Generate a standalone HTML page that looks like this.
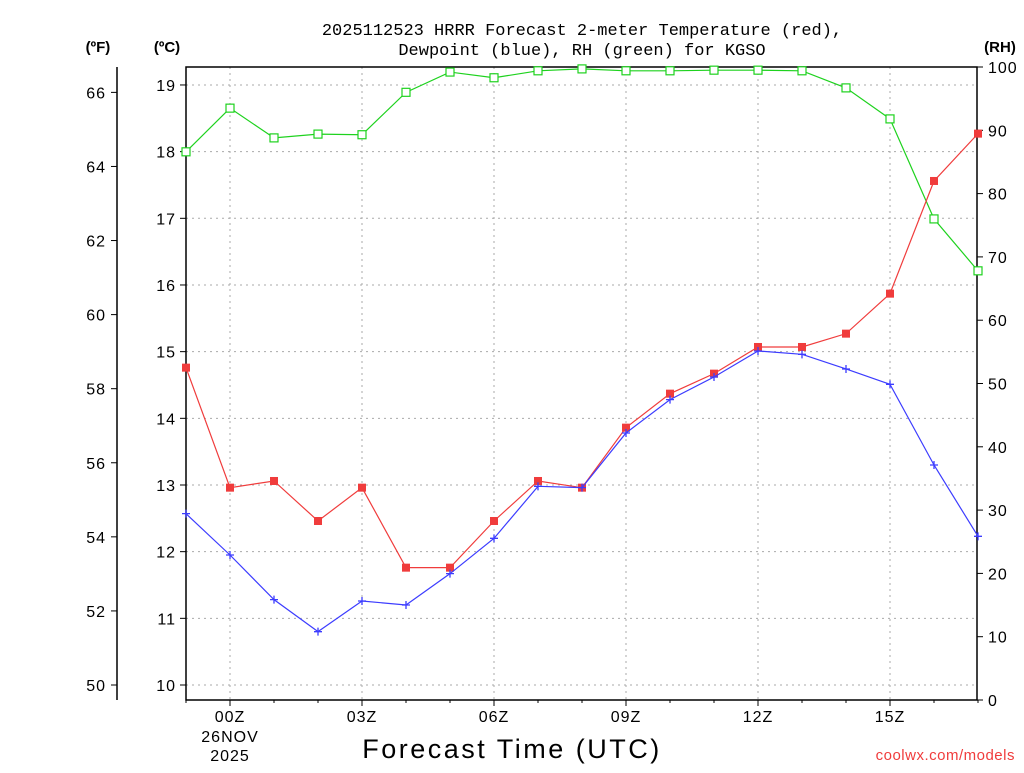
<!DOCTYPE html>
<html><head><meta charset="utf-8"><style>
body{margin:0;background:#fff;}
svg text{font-family:"Liberation Sans",sans-serif;}
</style></head><body>
<svg id="c" width="1024" height="768" xmlns="http://www.w3.org/2000/svg">
<text x="582" y="35" font-size="17" text-anchor="middle" style="font-family:'Liberation Mono',monospace">2025112523 HRRR Forecast 2-meter Temperature (red),</text>
<text x="582" y="55" font-size="17" text-anchor="middle" style="font-family:'Liberation Mono',monospace">Dewpoint (blue), RH (green) for KGSO</text>
<text x="98" y="52" font-size="15" font-weight="bold" text-anchor="middle">(ºF)</text>
<text x="167" y="52" font-size="15" font-weight="bold" text-anchor="middle">(ºC)</text>
<text x="1000" y="52" font-size="15" font-weight="bold" text-anchor="middle">(RH)</text>
<text x="512" y="758" font-size="27" text-anchor="middle" letter-spacing="2.5">Forecast Time (UTC)</text>
<text x="1015" y="760" font-size="15" fill="#f03c3c" text-anchor="end" letter-spacing="0.5">coolwx.com/models</text>
<g id="g"></g>
</svg>
<script>
const hours=[-1,0,1,2,3,4,5,6,7,8,9,10,11,12,13,14,15,16,17];
const tempC=[14.76,12.96,13.06,12.46,12.96,11.76,11.76,12.46,13.06,12.96,13.86,14.37,14.67,15.07,15.07,15.27,15.87,17.56,18.27];
const dewC=[12.57,11.95,11.28,10.8,11.26,11.2,11.67,12.2,12.98,12.96,13.78,14.28,14.62,15.01,14.96,14.74,14.51,13.3,12.23];
const rh=[86.6,93.5,88.8,89.4,89.3,96,99.2,98.3,99.4,99.7,99.4,99.4,99.5,99.5,99.4,96.7,91.8,76,67.8];
const cTicks=[10,11,12,13,14,15,16,17,18,19];
const fTicks=[50,52,54,56,58,60,62,64,66];
const rhTicks=[0,10,20,30,40,50,60,70,80,90,100];
const xTicks=["00Z","03Z","06Z","09Z","12Z","15Z"];
const xTickHours=[0,3,6,9,12,15];
const L=186,R=977,T=67,B=700;
const X=h=>230+h*44;
const YC=c=>685-(c-10)*66.67;
const YF=f=>YC((f-32)*5/9);
const YR=r=>B-r*6.33;
const g=document.getElementById('g');const NS="http://www.w3.org/2000/svg";
function mk(t,a,p){const e=document.createElementNS(NS,t);for(const k in a)e.setAttribute(k,a[k]);(p||g).appendChild(e);return e;}
cTicks.forEach(c=>{const y=YC(c);
 const l=mk('line',{x1:L,x2:R,y1:y,y2:y,stroke:'#aaa','stroke-dasharray':'2,4'});
 
 
 mk('line',{x1:L-6,x2:L,y1:y,y2:y,stroke:'#000'});
 const t=mk('text',{x:L-10,y:y+6,'font-size':16,'text-anchor':'end','letter-spacing':1});t.textContent=c;
 
 });
xTickHours.forEach((h,i)=>{const x=X(h);
 const l=mk('line',{x1:x,x2:x,y1:T,y2:B,stroke:'#aaa','stroke-dasharray':'2,4'});
 
 
 mk('line',{x1:x,x2:x,y1:B,y2:B+6,stroke:'#000'});
 const t=mk('text',{x:x,y:722,'font-size':16,'text-anchor':'middle','letter-spacing':1});t.textContent=xTicks[i];
 
 });
const d1=mk('text',{x:230,y:742,'font-size':16,'text-anchor':'middle','letter-spacing':1});d1.textContent='26NOV';


const d2=mk('text',{x:230,y:761,'font-size':16,'text-anchor':'middle','letter-spacing':1});d2.textContent='2025';


hours.forEach(h=>{mk('line',{x1:X(h),x2:X(h),y1:B,y2:B+3,stroke:'#000'});});
fTicks.forEach(f=>{const y=YF(f);mk('line',{x1:111,x2:117,y1:y,y2:y,stroke:'#000'});
 const t=mk('text',{x:106,y:y+6,'font-size':16,'text-anchor':'end','letter-spacing':1});t.textContent=f;
 
 });
rhTicks.forEach(r=>{const y=YR(r);mk('line',{x1:R,x2:R+6,y1:y,y2:y,stroke:'#000'});
 const t=mk('text',{x:988,y:y+6,'font-size':16,'letter-spacing':1});t.textContent=r;
 
 });
mk('line',{x1:117,x2:117,y1:T,y2:B,stroke:'#000','stroke-width':1.5});
mk('rect',{x:L,y:T,width:R-L,height:B-T,fill:'none',stroke:'#000','stroke-width':1.5});
function series(vals,yf,col,name,marker){
 const pl=mk('polyline',{points:vals.map((v,i)=>X(hours[i])+','+yf(v)).join(' '),fill:'none',stroke:col,'stroke-width':1.2});
 
 
 vals.forEach((v,i)=>{const x=X(hours[i]),y=yf(v);let m;
  if(marker==='sq')m=mk('rect',{x:x-4,y:y-4,width:8,height:8,fill:col});
  else if(marker==='open')m=mk('rect',{x:x-4,y:y-4,width:8,height:8,fill:'#fff',stroke:col,'stroke-width':1.2});
  else m=mk('path',{d:`M${x-4},${y}H${x+4}M${x},${y-4}V${y+4}`,stroke:col,'stroke-width':1.3});
  
  });}
series(rh,YR,'#1ed21e','rh','open');
series(tempC,YC,'#f03c3c','temperature','sq');
series(dewC,YC,'#3c3cff','dewpoint','plus');
</script>
</body></html>
